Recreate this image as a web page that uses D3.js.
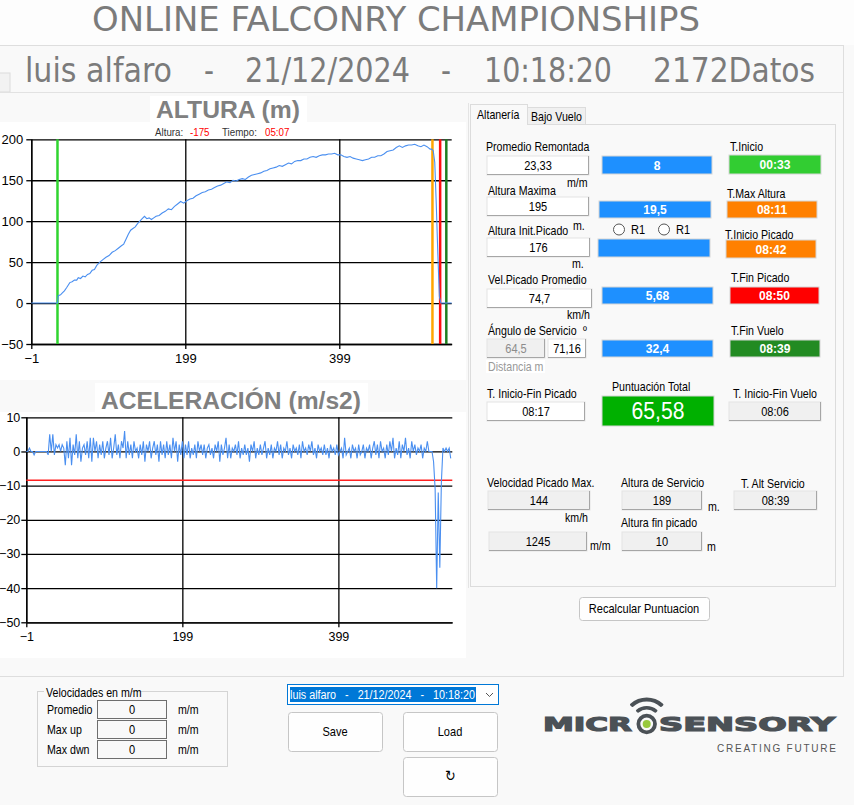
<!DOCTYPE html>
<html>
<head>
<meta charset="utf-8">
<script src="https://cdn.jsdelivr.net/npm/d3@7"></script>
<style>
  html, body { margin: 0; padding: 0; background: #f9f9f9; }
  svg { display: block; }
</style>
</head>
<body>
<svg id="app" width="854" height="805"></svg>
<script>
// ---- chart data ----
const altura = [
  [-1, 0], [10, 0], [20, 0], [33, 0], [34, 9], [37, 10], [39, 12], [42, 15], [45, 19], [49, 25],
  [52, 26], [55, 28], [58, 28], [60, 31], [63, 30], [66, 33], [69, 32], [72, 35], [75, 36], [78, 40],
  [81, 41], [84, 46], [88, 50], [92, 53], [96, 56], [100, 58], [104, 62], [108, 64], [112, 67], [116, 70],
  [119, 72], [122, 78], [125, 84], [128, 89], [131, 91], [134, 93], [137, 97], [140, 100], [143, 103], [146, 106],
  [149, 103], [152, 104], [155, 102], [158, 104], [161, 106], [165, 107], [169, 110], [173, 112], [177, 115], [181, 114],
  [185, 118], [189, 121], [193, 124], [197, 122], [201, 125], [205, 127], [209, 128], [213, 131], [217, 133], [221, 135],
  [225, 136], [229, 138], [233, 139], [237, 141], [241, 143], [245, 144], [249, 146], [253, 148], [257, 147], [261, 150],
  [265, 149], [269, 151], [273, 152], [277, 151], [281, 154], [285, 156], [289, 157], [293, 158], [297, 159], [301, 161],
  [305, 162], [309, 164], [313, 165], [317, 166], [321, 168], [325, 167], [329, 169], [333, 171], [337, 170], [341, 173],
  [345, 174], [349, 174], [353, 176], [357, 176], [361, 178], [365, 179], [369, 178], [373, 180], [377, 181], [381, 181],
  [385, 182], [389, 182], [393, 183], [397, 181], [401, 181], [405, 179], [409, 178], [413, 179], [417, 177], [421, 176],
  [425, 175], [429, 174], [433, 175], [437, 176], [441, 178], [445, 178], [449, 180], [453, 180], [457, 182], [461, 185],
  [465, 186], [469, 187], [473, 190], [477, 192], [481, 190], [485, 192], [489, 193], [493, 193], [497, 194], [501, 192],
  [505, 191], [509, 193], [513, 191], [517, 188], [519, 188], [521, 186], [523, 172], [525, 120], [527, 60], [529, 8],
  [531, 0], [533, 0], [537, 0], [541, 0], [545, 0]
];
// marcas verticales (segundo de vuelo)
const marcas = [
  { t: 33, color: "#2fd52f" },   // inicio
  { t: 520, color: "#ffa500" },  // inicio picado
  { t: 530, color: "#ff1010" },  // fin picado
  { t: 538, color: "#1f7f1f" }   // fin vuelo
];
// aceleración, una muestra cada 2 unidades desde -1
const acelInicio = -1, acelPaso = 2;
const aceleracion = [
  0, 0, 1, 0, 0, -1, 0, 0, 0, 0,
  0, 0, 0, 0, -1, 5, 0, 5, -1, 2,
  1, 2, 0, 2, 1, -4, 3, -2, 4, -4,
  2, -1, 5, -2, 3, -3, 1, 2, -1, 3,
  -2, 4, -3, 4, 0, 3, -2, 2, -1, 3,
  -2, 1, 3, -1, 4, -2, 1, 5, -1, 2,
  -2, 3, 1, 6, -2, 3, -1, 2, -2, 3,
  0, 1, -2, 2, -1, 3, -3, 2, 0, 3,
  -2, 1, 3, -1, 2, -3, 3, -1, 2, -2,
  3, -1, 2, -2, 4, 0, 3, -3, 2, -1,
  3, -2, 2, -1, 3, -2, 1, -1, 2, -2,
  3, 0, 2, -1, 2, -2, 1, 2, -1, 1,
  -2, 2, 0, 3, -3, 2, -1, 1, 4, -2,
  2, -2, 1, 0, 2, -1, 3, -2, 1, -1,
  2, -1, 1, -3, 2, 0, 3, -2, 1, -1,
  2, -1, 1, 3, -2, 1, -1, 2, -2, 1,
  0, 3, -1, 2, -2, 1, 0, 3, -1, 1,
  -2, 2, 0, 1, -1, 2, -2, 3, 0, 1,
  -1, 2, 0, 3, -1, 1, -2, 2, 0, 1,
  -1, 2, -1, 1, -2, 2, 0, 1, -1, 2,
  -1, 0, 1, -2, 4, -1, 0, 1, -2, 2,
  0, 1, -2, 2, -1, 0, 2, -2, 1, 0,
  2, -2, 1, 3, -1, 2, -2, 3, 0, 1,
  -2, 2, -1, 3, 0, 4, -2, 1, -1, 3,
  -2, 2, 0, 4, -1, 1, -2, 3, 0, 2,
  -1, 1, 0, 2, -2, 1, 0, 3, 0, 0,
  0, -3, -11, -40, -12, -34, -9, 1, 0, 1,
  0, 1, -2
];
const umbralAcel = -8.4;

const xDominio = [-1, 545];
const xTicks = [-1, 199, 399];
const alturaTicks = [-50, 0, 50, 100, 150, 200];
const acelTicks = [-50, -40, -30, -20, -10, 0, 10];

// ---- header / panel texts ----
const titulo = "ONLINE FALCONRY CHAMPIONSHIPS";
const cabecera = ["luis alfaro", "-", "21/12/2024", "-", "10:18:20", "2172Datos"];
const cursor = { altura: "-175", tiempo: "05:07" };

const valoresEntrada = ["23,33", "195", "176", "74,7", "64,5", "71,16", "08:17", "08:06", "144", "1245", "189", "10", "08:39"];
const valoresIndicador = ["8", "19,5", "", "5,68", "32,4", "00:33", "08:11", "08:42", "08:50", "08:39"];
const puntuacion = "65,58";
const velocidades = [["Promedio", "0"], ["Max up", "0"], ["Max dwn", "0"]];
const vueloSel = "luis alfaro   -   21/12/2024   -   10:18:20";

const NARROW = "'Liberation Sans Narrow', 'Arial Narrow', 'DejaVu Sans Condensed', sans-serif";
const SANS = "'Liberation Sans', Arial, sans-serif";
const SX = 0.85; // the form font is narrower than Liberation Sans

const svg = d3.select("#app");

// text with a horizontal squeeze, anchored at x,y
function texto(parent, x, y, str, o = {}) {
  return parent.append("text")
    .attr("transform", `translate(${x},${y}) scale(${o.sx || SX},1)`)
    .attr("text-anchor", o.anchor || "start")
    .attr("font-family", o.family || SANS)
    .attr("font-size", o.size || 12.5)
    .attr("font-weight", o.weight || null)
    .attr("fill", o.fill || "#000")
    .text(str);
}

// ---- page frame ----
svg.append("rect").attr("width", 854).attr("height", 805).attr("fill", "#f9f9f9");
svg.append("rect").attr("width", 854).attr("height", 45).attr("fill", "#fdfdfd");
svg.append("line").attr("x1", 0).attr("x2", 843).attr("y1", 45.5).attr("y2", 45.5).attr("stroke", "#dedede");
svg.append("line").attr("x1", 843.5).attr("x2", 843.5).attr("y1", 45).attr("y2", 677).attr("stroke", "#dedede");
svg.append("line").attr("x1", 0).attr("x2", 843).attr("y1", 676.5).attr("y2", 676.5).attr("stroke", "#dedede");
svg.append("rect").attr("x", -1).attr("y", 73).attr("width", 11).attr("height", 19)
  .attr("fill", "#f2f2f2").attr("stroke", "#dcdcdc");
svg.append("line").attr("x1", 0).attr("x2", 843).attr("y1", 92.5).attr("y2", 92.5).attr("stroke", "#e2e2e2");

// header texts
svg.append("text").attr("x", 92).attr("y", 31).text(titulo)
  .attr("font-family", NARROW).attr("font-size", 34).attr("fill", "#7b7b7b")
  .attr("textLength", 608).attr("lengthAdjust", "spacingAndGlyphs");

const cabeceraX = [[25, 147], [204, 10], [245, 165], [441, 10], [484, 128], [653, 162]];
svg.append("g").selectAll("text").data(cabecera).join("text")
  .attr("x", (d, i) => cabeceraX[i][0]).attr("y", 82)
  .attr("textLength", (d, i) => cabeceraX[i][1]).attr("lengthAdjust", "spacingAndGlyphs")
  .attr("font-family", NARROW).attr("font-size", 33).attr("fill", "#7b7b7b")
  .text(d => d);

// ---- charts ----
function grafico(cfg) {
  const g = svg.append("g");
  g.append("rect").attr("x", 0).attr("y", cfg.bgTop).attr("width", 466).attr("height", cfg.bgBottom - cfg.bgTop).attr("fill", "#fff");
  g.append("rect").attr("x", cfg.tituloBox[0]).attr("y", cfg.tituloBox[1])
    .attr("width", cfg.tituloBox[2] - cfg.tituloBox[0]).attr("height", cfg.bgTop - cfg.tituloBox[1]).attr("fill", "#fff");
  g.append("text").attr("x", cfg.tituloPos[0]).attr("y", cfg.tituloPos[1]).text(cfg.titulo)
    .attr("font-family", SANS).attr("font-weight", "bold").attr("font-size", 23).attr("fill", "#808080")
    .attr("textLength", cfg.tituloPos[2]).attr("lengthAdjust", "spacingAndGlyphs");

  const x = d3.scaleLinear().domain(xDominio).range(cfg.xRange);
  const y = d3.scaleLinear().domain(cfg.yDominio).range(cfg.yRange);
  const w = cfg.xRange[1] - cfg.xRange[0];

  // horizontal grid
  g.append("g").attr("transform", `translate(${cfg.xRange[0]},0)`)
    .call(d3.axisRight(y).tickValues(cfg.yTicks).tickSize(w).tickFormat(""))
    .call(a => a.select(".domain").remove())
    .call(a => a.selectAll("line").attr("stroke", "#000").attr("stroke-width", 1.3));
  // vertical grid
  g.append("g").attr("transform", `translate(0,${cfg.yRange[0]})`)
    .call(d3.axisTop(x).tickValues(xTicks).tickSize(cfg.yRange[0] - cfg.yRange[1]).tickFormat(""))
    .call(a => a.select(".domain").remove())
    .call(a => a.selectAll("line").attr("stroke", "#000").attr("stroke-width", 1.3));

  const ejeY = g.append("g").attr("transform", `translate(${cfg.xRange[0]},0)`)
    .call(d3.axisLeft(y).tickValues(cfg.yTicks).tickSizeInner(5).tickSizeOuter(0).tickPadding(cfg.yPad));
  const ejeX = g.append("g").attr("transform", `translate(0,${cfg.yRange[0]})`)
    .call(d3.axisBottom(x).tickValues(xTicks).tickSizeInner(5).tickSizeOuter(0).tickPadding(cfg.xPad));
  [ejeY, ejeX].forEach(a => {
    a.select(".domain").attr("stroke", "#000").attr("stroke-width", 1.3);
    a.selectAll("line").attr("stroke", "#000").attr("stroke-width", 1.3);
    a.selectAll("text").attr("font-family", SANS).attr("font-size", cfg.tickSize).attr("fill", "#000");
  });
  return { g, x, y };
}

// ALTURA
const c1 = grafico({
  bgTop: 122, bgBottom: 380, tituloBox: [150, 96, 307], tituloPos: [156, 118, 144], titulo: "ALTURA (m)",
  yDominio: [-50, 200], yRange: [344, 139.3], xRange: [31.3, 451.7], yTicks: alturaTicks, yPad: 3, xPad: 5, tickSize: 13
});
c1.g.append("g").selectAll("line").data(marcas).join("line")
  .attr("x1", d => c1.x(d.t)).attr("x2", d => c1.x(d.t))
  .attr("y1", c1.y(200)).attr("y2", c1.y(-50))
  .attr("stroke", d => d.color).attr("stroke-width", 2.5);
c1.g.append("path").datum(altura)
  .attr("d", d3.line().x(d => c1.x(d[0])).y(d => c1.y(d[1])))
  .attr("fill", "none").attr("stroke", "#4a8ff0").attr("stroke-width", 1.1);

texto(c1.g, 155, 136, "Altura:", { size: 11.5, fill: "#333" });
texto(c1.g, 190, 136, cursor.altura, { size: 11.5, fill: "#ff0000" });
texto(c1.g, 222, 136, "Tiempo:", { size: 11.5, fill: "#333" });
texto(c1.g, 265, 136, cursor.tiempo, { size: 11.5, fill: "#ff0000" });

// ACELERACIÓN
const c2 = grafico({
  bgTop: 412, bgBottom: 658, tituloBox: [95, 383, 368], tituloPos: [101, 409, 260], titulo: "ACELERACIÓN (m/s2)",
  yDominio: [-50, 10], yRange: [622.3, 417.3], xRange: [26.3, 452.3], yTicks: acelTicks, yPad: 1, xPad: 5, tickSize: 12.5
});
c2.g.append("line")
  .attr("x1", c2.x(xDominio[0])).attr("x2", c2.x(xDominio[1]))
  .attr("y1", c2.y(umbralAcel)).attr("y2", c2.y(umbralAcel))
  .attr("stroke", "#ff2020").attr("stroke-width", 1.5);
c2.g.append("path").datum(aceleracion)
  .attr("d", d3.line().x((d, i) => c2.x(acelInicio + i * acelPaso)).y(d => c2.y(d)))
  .attr("fill", "none").attr("stroke", "#4a8ff0").attr("stroke-width", 1.1);

svg.append("line").attr("x1", 468.5).attr("x2", 468.5).attr("y1", 103).attr("y2", 588).attr("stroke", "#e4e4e4");

// ---- right tab panel ----
const panel = svg.append("g");
panel.append("rect").attr("x", 470.5).attr("y", 124.5).attr("width", 365).attr("height", 462)
  .attr("fill", "#f9f9f9").attr("stroke", "#dcdcdc");
panel.append("rect").attr("x", 527.5).attr("y", 107.5).attr("width", 58).attr("height", 17)
  .attr("fill", "#f0f0f0").attr("stroke", "#dcdcdc");
panel.append("rect").attr("x", 470.5).attr("y", 104.5).attr("width", 57).attr("height", 20)
  .attr("fill", "#f9f9f9").attr("stroke", "#dcdcdc");
panel.append("rect").attr("x", 471).attr("y", 123).attr("width", 56).attr("height", 3).attr("fill", "#f9f9f9");
texto(panel, 477, 119, "Altanería");
texto(panel, 531, 120.5, "Bajo Vuelo");

const etiquetas = [
  ["Promedio Remontada", 486, 146], ["m/m", 567, 182], ["Altura Maxima", 488, 190],
  ["Altura Init.Picado", 488, 230], ["m.", 573, 225], ["m.", 572, 263],
  ["Vel.Picado Promedio", 488, 279], ["km/h", 567, 314], ["Ángulo de Servicio", 488, 330],
  ["º", 583, 330], ["T. Inicio-Fin Picado", 487, 393], ["Puntuación Total", 612, 386],
  ["T.Inicio", 730, 146], ["T.Max Altura", 727, 193], ["T.Inicio Picado", 725, 234],
  ["T.Fin Picado", 731, 277], ["T.Fin Vuelo", 731, 330], ["T. Inicio-Fin Vuelo", 733, 393],
  ["Velocidad Picado Max.", 487, 482], ["km/h", 565, 517], ["m/m", 590, 545],
  ["Altura de Servicio", 621, 482], ["m.", 708, 506], ["Altura fin picado", 621, 522],
  ["m", 707, 546], ["T. Alt Servicio", 741, 483]
];
panel.append("rect").attr("x", 486).attr("y", 360).attr("width", 59).attr("height", 13).attr("fill", "#fff");
texto(panel, 488, 371, "Distancia m", { fill: "#999" });
etiquetas.forEach(d => texto(panel, d[1], d[2] + 4.5, d[0]));

// entry boxes: [x0, y0, x1, y1, estilo]
const cajasEntrada = [
  [487, 156, 589, 175, "w"], [487, 197, 589, 216, "w"], [487, 238, 590, 257, "w"],
  [487, 289, 592, 308, "w"], [487, 339, 545, 358, "dim"], [548, 339, 586, 358, "w"],
  [487, 402, 585, 421, "w"], [729, 402, 821, 421, "g"], [488, 491, 590, 510, "g"],
  [489, 532, 587, 551, "g"], [622, 491, 702, 510, "g"], [622, 532, 702, 551, "g"],
  [734, 491, 817, 510, "g"]
];
cajasEntrada.forEach((d, i) => {
  panel.append("rect").attr("x", d[0]).attr("y", d[1])
    .attr("width", d[2] - d[0]).attr("height", d[3] - d[1])
    .attr("fill", d[4] === "w" ? "#fff" : "#f0f0f0").attr("stroke", "#e3e3e3");
  panel.append("path").attr("d", `M${d[0]},${d[3] - 0.5}H${d[2] - 0.5}V${d[1]}`)
    .attr("fill", "none").attr("stroke", "#a6a6a6");
  texto(panel, (d[0] + d[2]) / 2, (d[1] + d[3]) / 2 + 4.5, valoresEntrada[i],
    { anchor: "middle", size: 13, fill: d[4] === "dim" ? "#8c8c8c" : "#000" });
});

// coloured indicators
const cajasIndicador = [
  [602, 156, 712, 174, "#1e90ff"], [599, 201, 711, 218, "#1e90ff"], [598, 239, 710, 257, "#1e90ff"],
  [602, 287, 713, 304, "#1e90ff"], [602, 340, 713, 357, "#1e90ff"], [729, 155, 821, 174, "#32cd32"],
  [727, 201, 817, 218, "#ff8000"], [726, 240, 816, 258, "#ff8000"], [730, 287, 819, 304, "#ff0000"],
  [730, 340, 820, 357, "#228b22"]
];
cajasIndicador.forEach((d, i) => {
  panel.append("rect").attr("x", d[0]).attr("y", d[1])
    .attr("width", d[2] - d[0]).attr("height", d[3] - d[1])
    .attr("fill", d[4]).attr("stroke", "#d6d6d6");
  texto(panel, (d[0] + d[2]) / 2, (d[1] + d[3]) / 2 + 4.5, valoresIndicador[i],
    { anchor: "middle", size: 13, weight: "bold", fill: "#fff", sx: 0.93 });
});

panel.append("rect").attr("x", 602).attr("y", 396).attr("width", 112).attr("height", 30)
  .attr("fill", "#00b000").attr("stroke", "#d6d6d6");
texto(panel, 658, 419, puntuacion, { anchor: "middle", size: 23, fill: "#fff", sx: 0.92 });

// radio buttons
[619, 664].forEach(cx => {
  panel.append("circle").attr("cx", cx).attr("cy", 229.5).attr("r", 5.5).attr("fill", "#fff").attr("stroke", "#555");
  texto(panel, cx + 12, 234, "R1", { size: 13 });
});

// button helper
function boton(x0, y0, x1, y1, txt, size) {
  svg.append("rect").attr("x", x0 + 0.5).attr("y", y0 + 0.5).attr("width", x1 - x0).attr("height", y1 - y0)
    .attr("rx", 3).attr("fill", "#fefefe").attr("stroke", "#c6c6c6");
  texto(svg, (x0 + x1) / 2, (y0 + y1) / 2 + 4.5, txt, { anchor: "middle", size: size || 13 });
}
boton(579, 597, 709, 620, "Recalcular Puntuacion");

// ---- bottom controls ----
const grupo = svg.append("g");
grupo.append("rect").attr("x", 37.5).attr("y", 691.5).attr("width", 190).attr("height", 75)
  .attr("fill", "none").attr("stroke", "#d4d4d4");
grupo.append("rect").attr("x", 44).attr("y", 686).attr("width", 88).attr("height", 12).attr("fill", "#f9f9f9");
texto(grupo, 46, 697, "Velocidades en m/m");
velocidades.forEach((d, i) => {
  const y0 = [700, 720, 740][i];
  texto(grupo, 47, y0 + 14, d[0]);
  grupo.append("rect").attr("x", 97.5).attr("y", y0 + 0.5).attr("width", 69).attr("height", 18)
    .attr("fill", "#f9f9f9").attr("stroke", "#6e6e6e");
  texto(grupo, 132, y0 + 14, d[1], { anchor: "middle", size: 13 });
  texto(grupo, 178, y0 + 14, "m/m");
});

// dropdown
svg.append("rect").attr("x", 287.5).attr("y", 684.5).attr("width", 211).attr("height", 20)
  .attr("fill", "#fff").attr("stroke", "#0078d7");
svg.append("rect").attr("x", 290).attr("y", 687).attr("width", 186).attr("height", 15).attr("fill", "#0078d7");
svg.append("text").attr("x", 290).attr("y", 699).text(vueloSel)
  .style("white-space", "pre").attr("textLength", 185).attr("lengthAdjust", "spacingAndGlyphs")
  .attr("font-family", SANS).attr("font-size", 12.5).attr("fill", "#fff");
svg.append("path").attr("d", "M486,693 L489.5,696.5 L493,693").attr("fill", "none").attr("stroke", "#555");

boton(288, 712, 382, 751, "Save");
boton(403, 712, 497, 751, "Load");
boton(403, 757, 497, 796, "↻", 15);

// ---- logo ----
const logo = svg.append("g");
const gris = "#4b5156";
const LOGO = "'DejaVu Sans', sans-serif";
logo.append("text").attr("x", 543).attr("y", 731).text("MICR")
  .attr("font-family", LOGO).attr("font-weight", "bold").attr("font-size", 19)
  .attr("fill", gris).attr("stroke", gris).attr("stroke-width", 1.2)
  .attr("textLength", 89).attr("lengthAdjust", "spacingAndGlyphs");
logo.append("text").attr("x", 659).attr("y", 731).text("SENSORY")
  .attr("font-family", LOGO).attr("font-weight", "bold").attr("font-size", 19)
  .attr("fill", gris).attr("stroke", gris).attr("stroke-width", 1.2)
  .attr("textLength", 176).attr("lengthAdjust", "spacingAndGlyphs");
logo.append("circle").attr("cx", 646.7).attr("cy", 724).attr("r", 8.3).attr("fill", "none").attr("stroke", gris).attr("stroke-width", 3.8);
logo.append("circle").attr("cx", 646.7).attr("cy", 724).attr("r", 4).attr("fill", "#98c93c");
const arco = d3.arc().startAngle(-0.78).endAngle(0.78).cornerRadius(1.2);
logo.append("path").attr("transform", "translate(646.7,722)").attr("d", arco({ innerRadius: 20.5, outerRadius: 24.5 })).attr("fill", gris);
logo.append("path").attr("transform", "translate(646.7,722)").attr("d", arco({ innerRadius: 12.5, outerRadius: 16 })).attr("fill", gris);
logo.append("text").attr("x", 717).attr("y", 752).text("CREATING FUTURE")
  .attr("font-family", SANS).attr("font-size", 10).attr("fill", "#555")
  .attr("textLength", 119).attr("lengthAdjust", "spacing");
</script>
</body>
</html>
